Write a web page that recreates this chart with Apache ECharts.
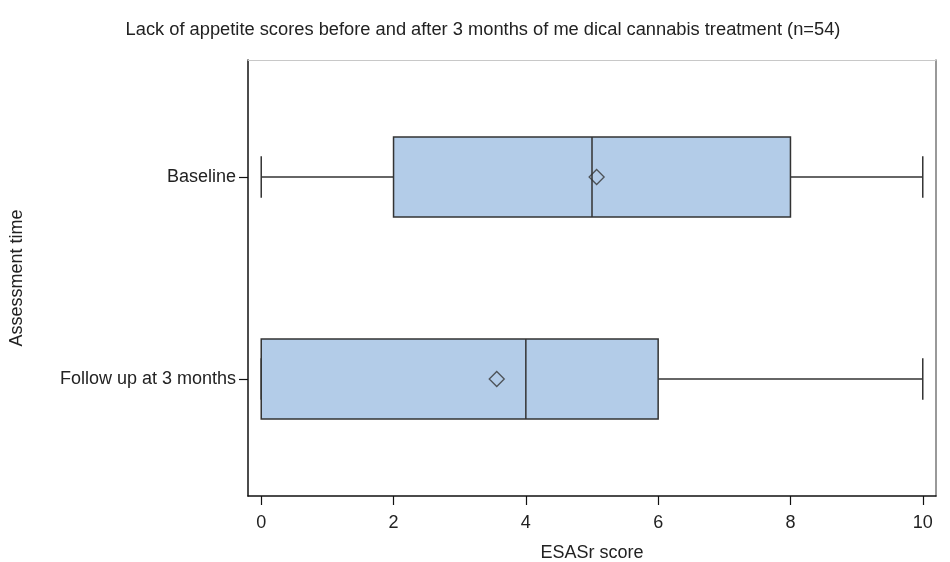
<!DOCTYPE html>
<html>
<head>
<meta charset="utf-8">
<script src="https://cdn.jsdelivr.net/npm/echarts@6/dist/echarts.min.js"></script>
<style>
  html, body { margin: 0; padding: 0; background: #fff; }
  #chart { width: 950px; height: 562px; }
</style>
</head>
<body>
<div id="chart"></div>
<script>
// Lack of appetite (ESASr) summary statistics per assessment time
const categories = ['Baseline', 'Follow up at 3 months'];
const minVals = [0, 0];
const q1Vals = [2, 0];
const medianVals = [5, 4];
const q3Vals = [8, 6];
const maxVals = [10, 10];
const meanVals = [5.07, 3.56];
const xTicks = [0, 2, 4, 6, 8, 10];

const FONT = '"Liberation Sans", Arial, Helvetica, sans-serif';
const FS = 18;
const INK = '#333';
const BOX_FILL = '#b3cce8';

const boxData = categories.map((c, i) => [i, minVals[i], q1Vals[i], medianVals[i], q3Vals[i], maxVals[i]]);
const meanData = categories.map((c, i) => [meanVals[i], i]);

function renderBox(params, api) {
  const idx = api.value(0);
  const lo = api.value(1), q1 = api.value(2), med = api.value(3), q3 = api.value(4), hi = api.value(5);
  const unit = api.size([0, 1])[1];
  const half = unit * 0.198;
  const cap = unit * 0.103;
  const pLo = api.coord([lo, idx]);
  const pQ1 = api.coord([q1, idx]);
  const pMed = api.coord([med, idx]);
  const pQ3 = api.coord([q3, idx]);
  const pHi = api.coord([hi, idx]);
  const y = pMed[1];
  const line = { stroke: INK, lineWidth: 1.5 };
  return {
    type: 'group',
    children: [
      { type: 'line', shape: { x1: pLo[0], y1: y, x2: pQ1[0], y2: y }, style: line },
      { type: 'line', shape: { x1: pQ3[0], y1: y, x2: pHi[0], y2: y }, style: line },
      { type: 'line', shape: { x1: pLo[0], y1: y - cap, x2: pLo[0], y2: y + cap }, style: line },
      { type: 'line', shape: { x1: pHi[0], y1: y - cap, x2: pHi[0], y2: y + cap }, style: line },
      { type: 'rect', shape: { x: pQ1[0], y: y - half, width: pQ3[0] - pQ1[0], height: 2 * half },
        style: { fill: BOX_FILL, stroke: INK, lineWidth: 1.5 } },
      { type: 'line', shape: { x1: pMed[0], y1: y - half, x2: pMed[0], y2: y + half }, style: line }
    ]
  };
}

const chart = echarts.init(document.getElementById('chart'), null, { renderer: 'canvas' });
chart.setOption({
  animation: false,
  backgroundColor: '#fff',
  title: {
    text: 'Lack of appetite scores before and after 3 months of me dical cannabis treatment (n=54)',
    left: 478, top: 16, textAlign: 'center',
    textStyle: { fontFamily: FONT, fontSize: 18.3, fontWeight: 'normal', color: '#222' }
  },
  grid: { left: 248, right: 14, top: 60, bottom: 66, outerBoundsMode: 'none', containLabel: false },
  xAxis: [{
    type: 'value', min: -0.2, max: 10.2,
    name: 'ESASr score', nameLocation: 'middle', nameGap: 48,
    nameTextStyle: { fontFamily: FONT, fontSize: FS, color: '#222' },
    axisLine: { show: true, onZero: false, lineStyle: { color: '#111', width: 1.5 } },
    axisTick: { show: true, length: 9, customValues: xTicks, lineStyle: { color: '#111', width: 1.2 } },
    axisLabel: { customValues: xTicks, margin: 18, fontFamily: FONT, fontSize: FS, color: '#222' },
    splitLine: { show: false }
  }, {
    type: 'value', position: 'top', min: -0.2, max: 10.2,
    axisLine: { show: true, onZero: false, lineStyle: { color: '#c8c8c8', width: 1 } },
    axisTick: { show: false }, axisLabel: { show: false }, splitLine: { show: false }
  }],
  yAxis: [{
    type: 'value', inverse: true, min: -0.579, max: 1.579,
    name: 'Assessment time', nameLocation: 'middle', nameGap: 222, nameRotate: 90,
    nameTextStyle: { fontFamily: FONT, fontSize: FS, color: '#222' },
    axisLine: { show: true, onZero: false, lineStyle: { color: '#111', width: 1.5 } },
    axisTick: { show: true, length: 9, customValues: [0, 1], lineStyle: { color: '#111', width: 1.2 } },
    axisLabel: {
      customValues: [0, 1], margin: 12, fontFamily: FONT, fontSize: FS, color: '#222',
      formatter: v => categories[Math.round(v)]
    },
    splitLine: { show: false }
  }, {
    type: 'value', position: 'right', inverse: true, min: -0.579, max: 1.579,
    axisLine: { show: true, onZero: false, lineStyle: { color: '#777', width: 1.5 } },
    axisTick: { show: false }, axisLabel: { show: false }, splitLine: { show: false }
  }],
  series: [{
    type: 'custom',
    xAxisIndex: 0, yAxisIndex: 0,
    encode: { x: [1, 2, 3, 4, 5], y: 0 },
    renderItem: renderBox,
    data: boxData,
    z: 2
  }, {
    type: 'scatter',
    xAxisIndex: 0, yAxisIndex: 0,
    symbol: 'diamond', symbolSize: 15,
    itemStyle: { color: 'rgba(0,0,0,0)', borderColor: INK, borderWidth: 1.3 },
    data: meanData,
    z: 3
  }]
});
</script>
</body>
</html>
